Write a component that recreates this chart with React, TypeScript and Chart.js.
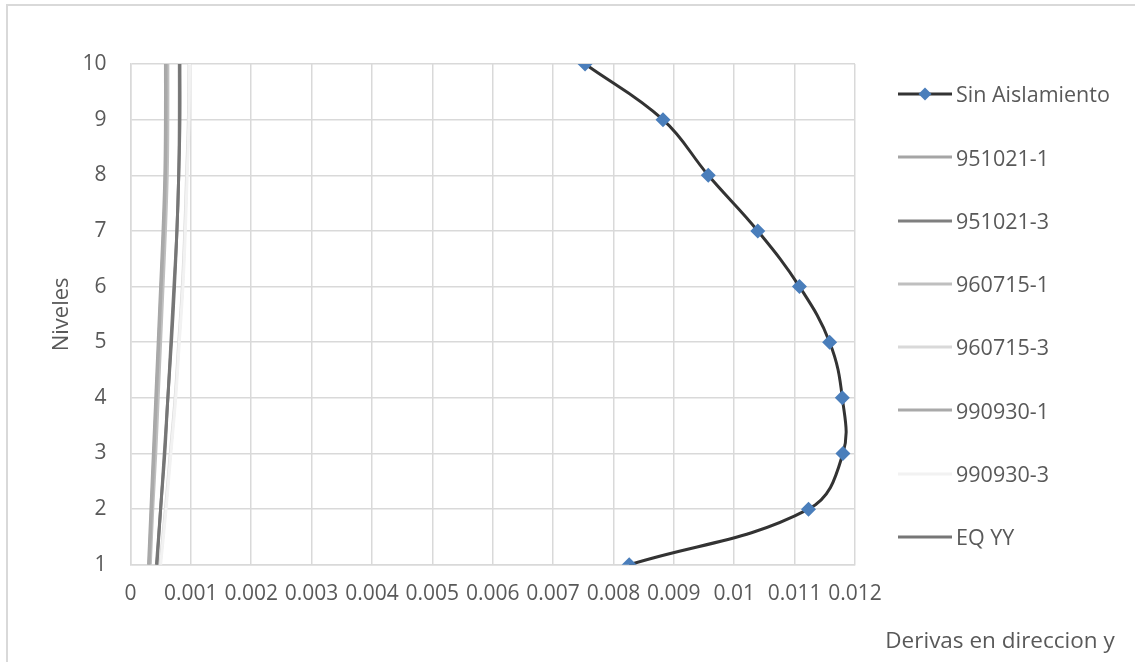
import { useEffect, useRef } from "react";
import Chart from "chart.js/auto";

// niveles (eje y) y derivas por serie (eje x), nivel 1 -> 10
const levels = [1, 2, 3, 4, 5, 6, 7, 8, 9, 10];

const seriesNames = [
  "Sin Aislamiento",
  "951021-1",
  "951021-3",
  "960715-1",
  "960715-3",
  "990930-1",
  "990930-3",
  "EQ YY",
];

const sinAislamiento = [0.00826, 0.01123, 0.0118, 0.01179, 0.01158, 0.01108, 0.01039, 0.00957, 0.00882, 0.00753];
const s951021_1 = [0.0003, 0.00034, 0.00038, 0.00042, 0.00046, 0.0005, 0.00054, 0.00057, 0.00058, 0.00058];
const s951021_3 = [0.00043, 0.0005, 0.00056, 0.00062, 0.00067, 0.00072, 0.00077, 0.0008, 0.00081, 0.00081];
const s960715_1 = [0.00033, 0.00037, 0.00042, 0.00046, 0.0005, 0.00054, 0.00058, 0.00061, 0.00062, 0.00062];
const s960715_3 = [0.00049, 0.00058, 0.00066, 0.00074, 0.0008, 0.00086, 0.0009, 0.00093, 0.00096, 0.00097];
const s990930_1 = [0.00031, 0.00035, 0.00039, 0.00043, 0.00047, 0.00051, 0.00055, 0.00058, 0.00059, 0.00059];
const s990930_3 = [0.0005, 0.00059, 0.00067, 0.00075, 0.00081, 0.00087, 0.00091, 0.00094, 0.00097, 0.00098];
const eqYY = [0.00044, 0.0005, 0.00057, 0.00062, 0.00068, 0.00073, 0.00077, 0.0008, 0.00082, 0.00082];

const seriesValues = [sinAislamiento, s951021_1, s951021_3, s960715_1, s960715_3, s990930_1, s990930_3, eqYY];

const xTitle = "Derivas en direccion y";
const yTitle = "Niveles";

// estilos
const lineColors = ["#333333", "#a5a5a5", "#7f7f7f", "#bfbfbf", "#d9d9d9", "#a9a9a9", "#f2f2f2", "#767676"];
const markerColor = "#4a7ebb";
const FONT = "'Open Sans', sans-serif";
const TEXT = "#595959";
const GRID = "#d9d9d9";

function LegendIcon({ color, marker }: { color: string; marker: boolean }) {
  return (
    <svg width={54} height={16} style={{ display: "block", flex: "none" }}>
      <line x1={0} y1={8} x2={54} y2={8} stroke={color} strokeWidth={3} />
      {marker && <polygon points="27,1.5 33.5,8 27,14.5 20.5,8" fill={markerColor} />}
    </svg>
  );
}

export default function App() {
  const canvasRef = useRef<HTMLCanvasElement | null>(null);

  useEffect(() => {
    if (!canvasRef.current) return;

    const tickFont = { family: FONT, size: 21 };

    const chart = new Chart(canvasRef.current, {
      type: "scatter",
      data: {
        datasets: seriesValues.map((vals, i) => ({
          label: seriesNames[i],
          data: vals.map((x, k) => ({ x, y: levels[k] })),
          showLine: true,
          borderColor: lineColors[i],
          borderWidth: 3,
          tension: 0.4,
          pointStyle: "rectRot",
          pointRadius: i === 0 ? 7.5 : 0,
          pointHoverRadius: i === 0 ? 7.5 : 0,
          pointBackgroundColor: markerColor,
          pointBorderColor: markerColor,
          pointBorderWidth: 0,
          order: -i,
        })),
      },
      options: {
        responsive: true,
        maintainAspectRatio: false,
        animation: false,
        layout: {
          padding: { top: 58, right: 53, bottom: 2, left: 41 },
        },
        plugins: {
          legend: { display: false },
          tooltip: { enabled: false },
        },
        scales: {
          x: {
            type: "linear",
            min: 0,
            max: 0.012,
            ticks: {
              stepSize: 0.001,
              maxTicksLimit: 20,
              autoSkip: false,
              maxRotation: 0,
              color: TEXT,
              font: tickFont,
              padding: 17,
              callback: (v) => parseFloat(Number(v).toFixed(3)).toString(),
            },
            grid: { color: GRID, lineWidth: 1.5, drawTicks: false },
            border: { color: GRID, width: 1.5 },
          },
          y: {
            min: 1,
            max: 10,
            ticks: {
              stepSize: 1,
              color: TEXT,
              font: tickFont,
              padding: 24,
            },
            grid: { color: GRID, lineWidth: 1.5, drawTicks: false },
            border: { color: GRID, width: 1.5 },
            title: {
              display: true,
              text: yTitle,
              color: TEXT,
              font: { family: FONT, size: 22 },
              padding: { top: 0, bottom: -17 },
            },
          },
        },
      },
    });

    return () => {
      chart.destroy();
    };
  }, []);

  return (
    <div
      style={{
        position: "fixed",
        left: 6,
        top: 4,
        width: 1140,
        height: 680,
        border: "2px solid #d9d9d9",
        background: "#fff",
        fontFamily: FONT,
        color: TEXT,
      }}
    >
      <div style={{ position: "absolute", left: 0, top: 0, width: 900, height: 620 }}>
        <canvas ref={canvasRef}></canvas>
      </div>

      <div style={{ position: "absolute", left: 890, top: 56.35 }}>
        {seriesNames.map((name, i) => (
          <div
            key={name}
            style={{ height: 63.3, display: "flex", alignItems: "center", fontSize: 21.5, lineHeight: 1 }}
          >
            <LegendIcon color={lineColors[i]} marker={i === 0} />
            <span style={{ marginLeft: 4, whiteSpace: "nowrap" }}>{name}</span>
          </div>
        ))}
      </div>

      <div
        style={{
          position: "absolute",
          left: 842,
          top: 621,
          width: 300,
          textAlign: "center",
          fontSize: 22.5,
          lineHeight: "26px",
          whiteSpace: "nowrap",
        }}
      >
        {xTitle}
      </div>
    </div>
  );
}
